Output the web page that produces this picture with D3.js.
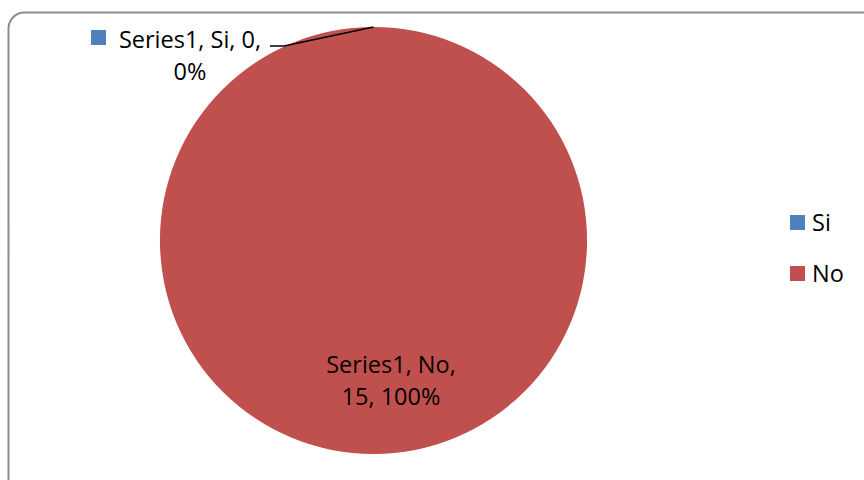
<!DOCTYPE html>
<html><head><meta charset="utf-8">
<script src="https://cdn.jsdelivr.net/npm/d3@7"></script>
<style>body{margin:0;background:#fff}svg{display:block}text{font-family:"Open Sans",sans-serif;fill:#000}</style>
</head><body>
<svg id="c" width="864" height="480"></svg>
<script>
const seriesName = "Series1";
const categories = ["Si", "No"];
const values = [0, 15];
const colors = ["#4F81BD", "#C0504D"];

const svg = d3.select("#c");
const FS = 23.5;
// chart border (extends beyond right/bottom)
svg.append("rect").attr("x", 8.5).attr("y", 12.5).attr("width", 900).attr("height", 520)
  .attr("rx", 16).attr("fill", "#fff").attr("stroke", "#8c8c8c").attr("stroke-width", 2);

const cx = 373.5, cy = 240.5, r = 213.5;
const data = categories.map((c, i) => ({cat: c, value: values[i], color: colors[i]}));
const total = d3.sum(values);
const pie = d3.pie().value(d => d.value).sort(null);
const arcs = pie(data);
const arc = d3.arc().innerRadius(0).outerRadius(r);
const g = svg.append("g").attr("transform", `translate(${cx},${cy})`);
g.selectAll("path").data(arcs).join("path")
  .attr("d", arc).attr("fill", d => d.data.color);

const pct = v => Math.round(v / total * 100) + "%";
// label for Si (zero slice) with leader line
const si = arcs[0];
const ang = (si.startAngle + si.endAngle) / 2;
const px = cx + r * Math.sin(ang), py = cy - r * Math.cos(ang);
svg.append("polyline").attr("points", `${px},${py} 284,46 270,46`)
  .attr("fill", "none").attr("stroke", "#000").attr("stroke-width", 1.5);
svg.append("rect").attr("x", 91).attr("y", 30).attr("width", 15).attr("height", 15).attr("fill", si.data.color);
const t1 = svg.append("text").attr("text-anchor", "middle").attr("font-size", FS);
t1.append("tspan").attr("x", 190).attr("y", 48).text(`${seriesName}, ${si.data.cat}, ${si.data.value},`);
t1.append("tspan").attr("x", 190).attr("y", 80).text(pct(si.data.value));

const no = arcs[1];
const t2 = svg.append("text").attr("text-anchor", "middle").attr("font-size", FS);
t2.append("tspan").attr("x", 391).attr("y", 373).text(`${seriesName}, ${no.data.cat},`);
t2.append("tspan").attr("x", 391).attr("y", 405).text(`${no.data.value}, ${pct(no.data.value)}`);

// legend
const lg = svg.append("g");
data.forEach((d, i) => {
  const y = 215 + i * 51;
  lg.append("rect").attr("x", 790).attr("y", y).attr("width", 15).attr("height", 15).attr("fill", d.color);
  lg.append("text").attr("x", 812).attr("y", y + 16).attr("font-size", FS).text(d.cat);
});
</script>
</body></html>
